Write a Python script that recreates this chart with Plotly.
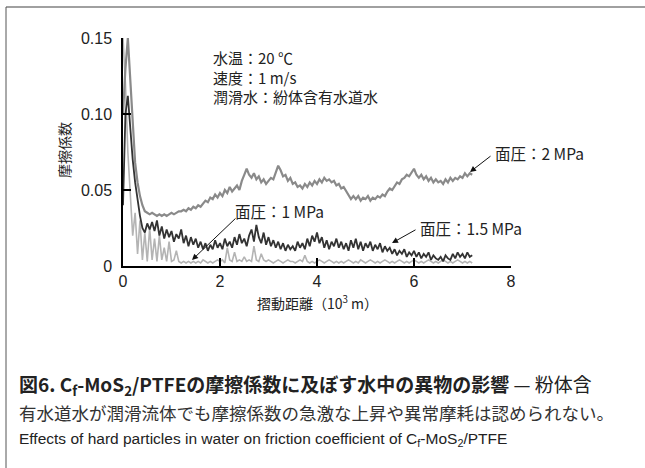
import plotly.graph_objects as go

# ---- data (friction coefficient sampled every 0.05 x10^3 m from 0 to 7.2) ----
X0 = 0.0
DX = 0.05

mu_2mpa = [
    0.100, 0.130, 0.150, 0.120, 0.090, 0.068, 0.055, 0.046, 0.040, 0.036,
    0.035, 0.034, 0.035, 0.034, 0.033, 0.034, 0.033, 0.034, 0.033, 0.034,
    0.035, 0.034, 0.035, 0.036, 0.036, 0.037, 0.036, 0.038, 0.037, 0.039,
    0.038, 0.040, 0.039, 0.041, 0.043, 0.042, 0.045, 0.044, 0.047, 0.045,
    0.048, 0.046, 0.050, 0.048, 0.052, 0.049, 0.051, 0.053, 0.050, 0.056,
    0.060, 0.064, 0.060, 0.058, 0.061, 0.057, 0.059, 0.055, 0.057, 0.054,
    0.056, 0.058, 0.057, 0.062, 0.066, 0.063, 0.059, 0.060, 0.056, 0.058,
    0.054, 0.055, 0.052, 0.053, 0.051, 0.054, 0.052, 0.055, 0.053, 0.056,
    0.054, 0.057, 0.055, 0.058, 0.056, 0.057, 0.055, 0.056, 0.053, 0.054,
    0.051, 0.052, 0.049, 0.047, 0.044, 0.046, 0.044, 0.046, 0.043, 0.045,
    0.044, 0.046, 0.043, 0.045, 0.044, 0.046, 0.045, 0.047, 0.046, 0.049,
    0.051, 0.050, 0.053, 0.055, 0.054, 0.057, 0.058, 0.060, 0.059, 0.062,
    0.064, 0.060, 0.058, 0.060, 0.057, 0.059, 0.056, 0.058, 0.055, 0.057,
    0.055, 0.056, 0.054, 0.057, 0.055, 0.058, 0.056, 0.058, 0.057, 0.059,
    0.058, 0.061, 0.059, 0.061, 0.060,
]

mu_15mpa = [
    0.040, 0.100, 0.112, 0.090, 0.070, 0.055, 0.042, 0.033, 0.025, 0.022,
    0.028, 0.024, 0.029, 0.023, 0.030, 0.020, 0.026, 0.018, 0.024, 0.019,
    0.023, 0.016, 0.021, 0.018, 0.024, 0.015, 0.020, 0.013, 0.019, 0.014,
    0.018, 0.012, 0.016, 0.011, 0.015, 0.010, 0.014, 0.011, 0.017, 0.012,
    0.015, 0.011, 0.018, 0.013, 0.016, 0.012, 0.019, 0.014, 0.021, 0.015,
    0.018, 0.013, 0.020, 0.024, 0.016, 0.027, 0.019, 0.015, 0.022, 0.014,
    0.019, 0.013, 0.017, 0.012, 0.016, 0.011, 0.015, 0.010, 0.014, 0.011,
    0.013, 0.010, 0.016, 0.012, 0.015, 0.011, 0.018, 0.013, 0.020, 0.016,
    0.022, 0.015, 0.019, 0.012, 0.017, 0.011, 0.016, 0.013, 0.018, 0.012,
    0.016, 0.011, 0.015, 0.010, 0.017, 0.012, 0.018, 0.011, 0.016, 0.010,
    0.015, 0.012, 0.016, 0.010, 0.014, 0.011, 0.015, 0.009, 0.013, 0.010,
    0.012, 0.008, 0.011, 0.007, 0.010, 0.008, 0.011, 0.006, 0.009, 0.007,
    0.010, 0.006, 0.009, 0.005, 0.008, 0.006, 0.009, 0.004, 0.007, 0.005,
    0.004, 0.006, 0.003, 0.007, 0.005, 0.004, 0.008, 0.005, 0.009, 0.006,
    0.008, 0.005, 0.009, 0.006, 0.007,
]

mu_1mpa = [
    0.150, 0.120, 0.075, 0.045, 0.020, 0.035, 0.008, 0.030, 0.004, 0.022,
    0.003, 0.025, 0.004, 0.018, 0.003, 0.020, 0.004, 0.012, 0.003, 0.016,
    0.003, 0.004, 0.010, 0.003, 0.002, 0.003, 0.002, 0.003, 0.002, 0.003,
    0.002, 0.003, 0.002, 0.004, 0.003, 0.002, 0.003, 0.002, 0.003, 0.004,
    0.003, 0.004, 0.002, 0.012, 0.004, 0.003, 0.009, 0.003, 0.004, 0.003,
    0.006, 0.003, 0.004, 0.003, 0.013, 0.004, 0.003, 0.008, 0.004, 0.003,
    0.004, 0.003, 0.002, 0.003, 0.004, 0.003, 0.002, 0.003, 0.004, 0.003,
    0.003, 0.002, 0.003, 0.004, 0.003, 0.007, 0.003, 0.002, 0.003, 0.002,
    0.003, 0.004, 0.003, 0.002, 0.003, 0.004, 0.003, 0.002, 0.003, 0.002,
    0.003, 0.002, 0.003, 0.004, 0.003, 0.002, 0.003, 0.002, 0.004, 0.003,
    0.002, 0.003, 0.004, 0.003, 0.002, 0.003, 0.002, 0.003, 0.004, 0.003,
    0.002, 0.003, 0.002, 0.003, 0.004, 0.003, 0.002, 0.003, 0.002, 0.003,
    0.004, 0.003, 0.002, 0.003, 0.002, 0.003, 0.004, 0.003, 0.002, 0.003,
    0.002, 0.003, 0.004, 0.003, 0.002, 0.003, 0.002, 0.003, 0.004, 0.003,
    0.002, 0.003, 0.002, 0.003, 0.002,
]

x_tickvals = [0, 2, 4, 6, 8]
x_ticktext = ["0", "2", "4", "6", "8"]
y_tickvals = [0, 0.05, 0.10, 0.15]
y_ticktext = ["0", "0.05", "0.10", "0.15"]

conditions = ["水温：20 ℃", "速度：1 m/s", "潤滑水：紛体含有水道水"]

# ---- layout geometry (pixels) ----
W, H = 645, 468
L, R, T, B = 123, 511, 38, 266

def pxx(px):
    return (px - L) / (R - L)

def pxy(py):
    return (B - py) / (B - T)

JP = "Noto Sans CJK JP"
LAT = "Liberation Sans, Noto Sans CJK JP"

fig = go.Figure()
fig.add_trace(go.Scatter(x0=X0, dx=DX, y=mu_1mpa, mode="lines",
                         line=dict(color="#b4b4b4", width=1.6), showlegend=False))
fig.add_trace(go.Scatter(x0=X0, dx=DX, y=mu_2mpa, mode="lines",
                         line=dict(color="#8a8a8a", width=2.2), showlegend=False))
fig.add_trace(go.Scatter(x0=X0, dx=DX, y=mu_15mpa, mode="lines",
                         line=dict(color="#333333", width=1.8), showlegend=False))

axis_common = dict(showline=True, linecolor="black", linewidth=1.5,
                   ticks="inside", ticklen=8, tickwidth=1.5, tickcolor="black",
                   showgrid=False, zeroline=False,
                   tickfont=dict(family=LAT, size=16, color="#222"))

fig.update_xaxes(range=[0, 8], tickvals=x_tickvals, ticktext=x_ticktext, **axis_common)
fig.update_yaxes(range=[0, 0.15], tickvals=y_tickvals, ticktext=y_ticktext,
                 ticklabelstandoff=6, **axis_common)


def note(px, py, text, size, family=JP, color="#222", xanchor="left", yanchor="middle", **kw):
    return dict(x=pxx(px), y=pxy(py), xref="paper", yref="paper", text=text,
                xanchor=xanchor, yanchor=yanchor, showarrow=False, align="left",
                font=dict(family=family, size=size, color=color), **kw)


ann = []
# axis titles
ann.append(note(64, 150, "摩擦係数", 14, xanchor="center", textangle=-90))
ann.append(note(317, 302, "摺動距離（10<sup>3</sup> m）", 14, xanchor="center"))
# conditions (three lines)
ann.append(note(211, 77, "<br>".join(conditions), 15))
# series labels
labels = [("面圧：2 MPa", 493, 153), ("面圧：1.5 MPa", 418, 228), ("面圧：1 MPa", 233, 211)]
for t, lx, ly in labels:
    ann.append(note(lx, ly, t, 15.5))
# arrows (head px, tail px)
arrows = [((470, 172), (492, 155)), ((392, 243), (417, 229)), ((192, 260), (237, 217))]
for (hx, hy), (tx, ty) in arrows:
    ann.append(dict(x=pxx(hx), y=pxy(hy), xref="paper", yref="paper", text="",
                    showarrow=True, arrowhead=2, arrowsize=1.2, arrowwidth=1,
                    arrowcolor="#111", ax=tx - hx, ay=ty - hy, standoff=0))
# caption (two Japanese lines + English line)
ann.append(note(17, 385, "<b>図6. C<sub>f</sub>-MoS<sub>2</sub>/PTFEの摩擦係数に及ぼす水中の異物の影響</b> — 粉体含", 19))
ann.append(note(17, 412, "有水道水が潤滑流体でも摩擦係数の急激な上昇や異常摩耗は認められない。", 17.5, color="#333"))
ann.append(note(17, 439, "Effects of hard particles in water on friction coefficient of C<sub>f</sub>-MoS<sub>2</sub>/PTFE",
                15.5, family="Liberation Sans"))

shapes = [
    dict(type="line", xref="paper", yref="paper", x0=pxx(6), x1=pxx(645), y0=pxy(7), y1=pxy(7),
         line=dict(color="#a0a0a0", width=2)),
    dict(type="line", xref="paper", yref="paper", x0=pxx(6), x1=pxx(6), y0=pxy(7), y1=pxy(468),
         line=dict(color="#555555", width=1)),
]

fig.update_layout(width=W, height=H, margin=dict(l=L, r=W - R, t=T, b=H - B),
                  paper_bgcolor="white", plot_bgcolor="white",
                  annotations=ann, shapes=shapes)

fig.write_html("out.html")
